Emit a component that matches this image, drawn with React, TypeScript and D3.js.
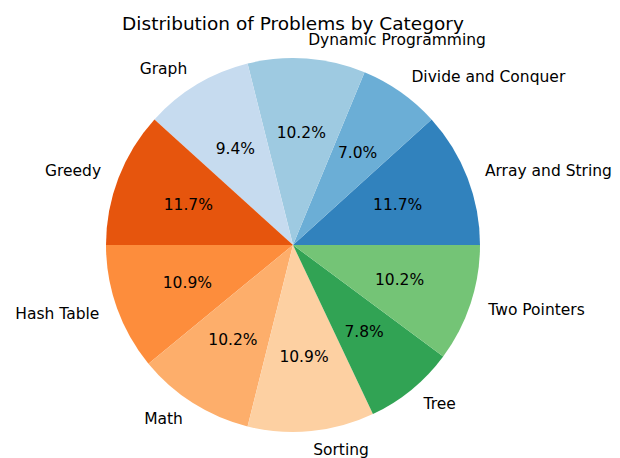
import React from "react";
import * as d3 from "d3";

const categories = [
  "Array and String",
  "Divide and Conquer",
  "Dynamic Programming",
  "Graph",
  "Greedy",
  "Hash Table",
  "Math",
  "Sorting",
  "Tree",
  "Two Pointers",
];
const counts = [15, 9, 13, 12, 15, 14, 13, 14, 10, 13];
const colors = [
  "#3182bd", "#6baed6", "#9ecae1", "#c6dbef",
  "#e6550d", "#fd8d3c", "#fdae6b", "#fdd0a2",
  "#31a354", "#74c476",
];
const title = "Distribution of Problems by Category";

const W = 620;
const H = 458;
const cx = 293;
const cy = 245;
const R = 187;

export default function App() {
  const total = d3.sum(counts);
  const angle = d3.scaleLinear().domain([0, total]).range([0, 2 * Math.PI]);
  let cum = 0;
  const slices = counts.map((v, i) => {
    const a0 = angle(cum);
    cum += v;
    const a1 = angle(cum);
    return { i, v, a0, a1 };
  });
  const toD3 = (a: number) => Math.PI / 2 - a;
  const arc = d3.arc<any>().innerRadius(0).outerRadius(R);
  const font = "DejaVu Sans, sans-serif";

  return (
    <svg width={W} height={H} style={{ display: "block", position: "absolute", left: 0, top: 0 }}>
      <rect width={W} height={H} fill="#fff" />
      <text x={cx} y={30} textAnchor="middle" fontFamily={font} fontSize={18.5} fill="#000">
        {title}
      </text>
      <g transform={`translate(${cx},${cy})`}>
        {slices.map((s) => (
          <path
            key={s.i}
            d={arc({ startAngle: toD3(s.a1), endAngle: toD3(s.a0) }) as string}
            fill={colors[s.i]}
          />
        ))}
        {slices.map((s) => {
          const m = (s.a0 + s.a1) / 2;
          const lx = 1.1 * R * Math.cos(m);
          const ly = -1.1 * R * Math.sin(m);
          const px = 0.6 * R * Math.cos(m);
          const py = -0.6 * R * Math.sin(m);
          const pct = ((s.v / total) * 100).toFixed(1) + "%";
          return (
            <g key={"t" + s.i}>
              <text
                x={lx}
                y={ly}
                textAnchor={lx > 0 ? "start" : "end"}
                dominantBaseline="central"
                fontFamily={font}
                fontSize={15.5}
                fill="#000"
              >
                {categories[s.i]}
              </text>
              <text
                x={px}
                y={py}
                textAnchor="middle"
                dominantBaseline="central"
                fontFamily={font}
                fontSize={15.5}
                fill="#000"
              >
                {pct}
              </text>
            </g>
          );
        })}
      </g>
    </svg>
  );
}
